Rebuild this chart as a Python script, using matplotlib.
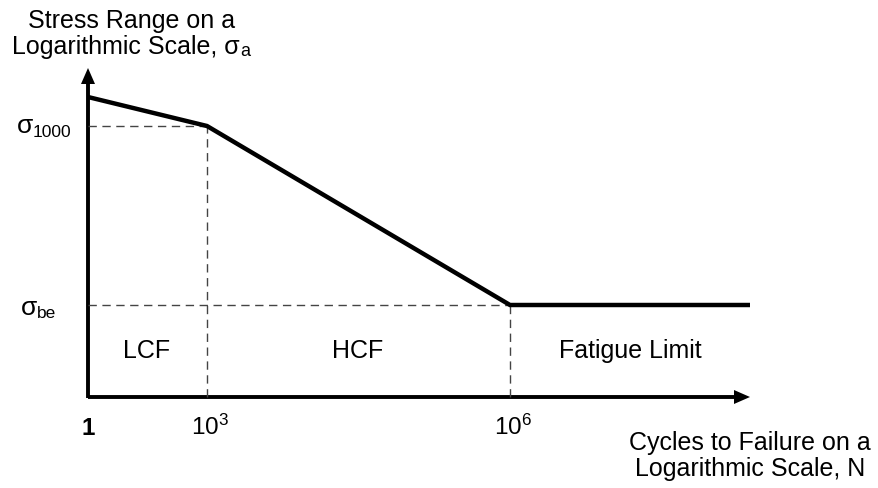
import matplotlib
matplotlib.use("Agg")
import matplotlib.pyplot as plt

plt.rcParams['font.family'] = ['Liberation Sans', 'DejaVu Sans']
plt.rcParams['mathtext.fontset'] = 'custom'
plt.rcParams['mathtext.rm'] = 'Liberation Sans'
plt.rcParams['mathtext.it'] = 'Liberation Sans:italic'
plt.rcParams['mathtext.bf'] = 'Liberation Sans:bold'

# Schematic S-N curve (positions on schematic log axes)
cycle_pos = [0, 119, 422, 662]          # 1, 10^3, 10^6, beyond
stress_pos = [300, 271, 92, 92]         # start, sigma_1000, sigma_be, sigma_be
tick_pos = [0, 119, 422]
tick_labels = [r'$\mathbf{1}$', r'$\mathregular{10^3}$', r'$\mathregular{10^6}$']
region_labels = ['LCF', 'HCF', 'Fatigue Limit']
region_x = [59, 270, 542]
region_y = 46
x_end = 662
y_end = 329

fig = plt.figure(figsize=(8.79, 4.88), dpi=100)
W, H = 879, 488
ax = fig.add_axes([88 / W, (H - 397) / H, (750 - 88) / W, (397 - 68) / H])
ax.set_xlim(0, x_end)
ax.set_ylim(0, y_end)
ax.axis('off')

# axes with arrows
ax.plot([0, x_end - 14], [0, 0], color='black', lw=2.8, solid_capstyle='butt', clip_on=False)
ax.plot([0, 0], [-1, y_end - 14], color='black', lw=2.8, solid_capstyle='butt', clip_on=False)
ax.fill([x_end - 16, x_end, x_end - 16], [-7, 0, 7], color='black', clip_on=False, lw=0)
ax.fill([-7, 0, 7], [y_end - 16, y_end, y_end - 16], color='black', clip_on=False, lw=0)

# dashed guides
dash = dict(color='#444444', lw=1.0, ls=(0, (6, 4)), clip_on=False)
ax.plot([0, cycle_pos[1]], [stress_pos[1], stress_pos[1]], **dash)
ax.plot([cycle_pos[1], cycle_pos[1]], [0, stress_pos[1]], **dash)
ax.plot([0, cycle_pos[2]], [stress_pos[2], stress_pos[2]], **dash)
ax.plot([cycle_pos[2], cycle_pos[2]], [0, stress_pos[2]], **dash)

# S-N curve
ax.plot(cycle_pos, stress_pos, color='black', lw=3.2, solid_joinstyle='miter',
        solid_capstyle='butt', clip_on=False)

# region labels
for lab, xx in zip(region_labels, region_x):
    ax.text(xx, region_y, lab, ha='center', va='center', fontsize=18)

# x tick labels
for xx, lab in zip(tick_pos, tick_labels):
    ax.text(xx + (3 if xx else 0), -38, lab, ha='center', va='baseline', fontsize=17.5)

# y labels
ax.text(-55, stress_pos[1] - 7, 'σ', ha='right', va='baseline', fontsize=19)
ax.text(-55, stress_pos[1] - 11, '1000', ha='left', va='baseline', fontsize=12.5)
ax.text(-51, stress_pos[2] - 10, 'σ', ha='right', va='baseline', fontsize=19)
ax.text(-51, stress_pos[2] - 13, 'be', ha='left', va='baseline', fontsize=12.5)

# axis titles
fig.text(132 / W, 1 - 21 / H, 'Stress Range on a', ha='center', va='center', fontsize=18)
fig.text(240 / W, 1 - 47 / H, 'Logarithmic Scale, σ', ha='right', va='center', fontsize=18)
fig.text(240 / W, 1 - 52 / H, 'a', ha='left', va='center', fontsize=13)
fig.text(750 / W, 1 - 443 / H, 'Cycles to Failure on a', ha='center', va='center', fontsize=18)
fig.text(750 / W, 1 - 469 / H, 'Logarithmic Scale, N', ha='center', va='center', fontsize=18)

fig.savefig('out.png', dpi=100)
